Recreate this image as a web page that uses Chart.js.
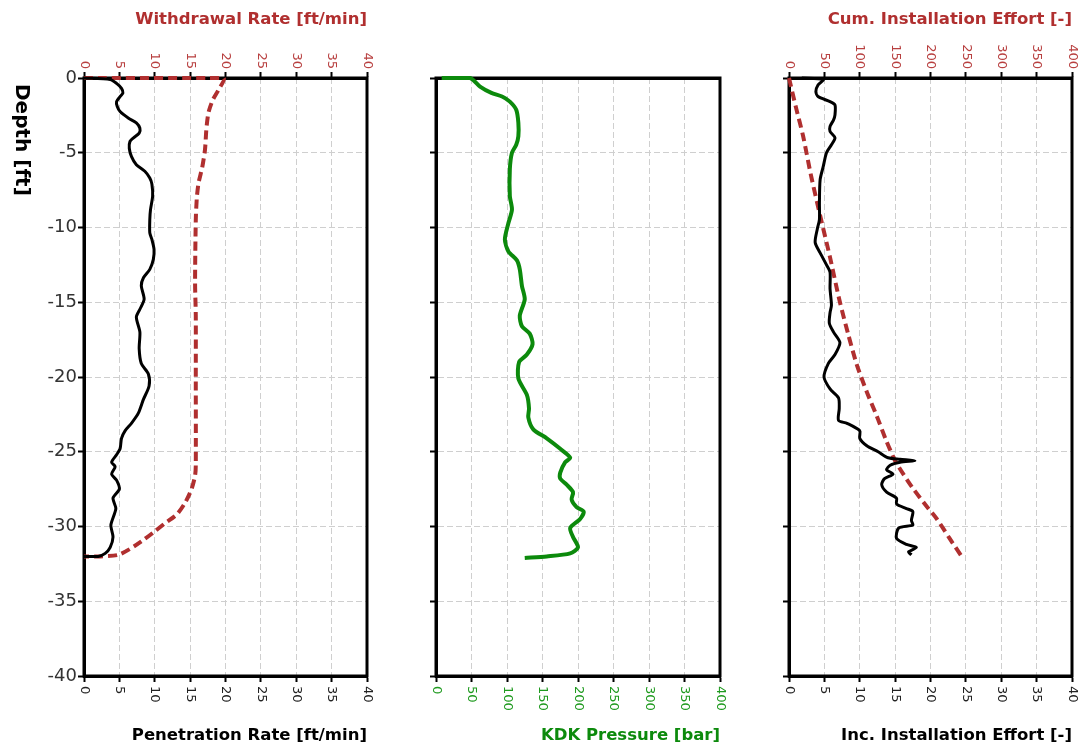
<!DOCTYPE html>
<html><head><meta charset="utf-8">
<script src="https://cdn.jsdelivr.net/npm/chart.js@4.4.1/dist/chart.umd.min.js"></script>
<style>html,body{margin:0;padding:0;background:#fff;overflow:hidden}
canvas{position:absolute;left:0;top:0}</style></head>
<body>
<canvas id="c1" width="1086" height="752"></canvas>
<canvas id="c2" width="1086" height="752"></canvas>
<canvas id="c3" width="1086" height="752"></canvas>
<script>
// ---- Data (depth in ft, negative downward) ----
const penetrationRate  = [0,3.7,4.6,5.3,5.5,5.1,4.6,4.7,5.1,6.3,7.4,7.9,7.8,7.0,6.5,6.4,6.7,7.4,8.6,9.3,9.6,9.7,9.4,9.3,9.3,9.6,9.9,9.8,9.3,8.4,8.1,8.5,7.9,7.4,7.9,7.8,8.1,9.1,9.2,8.4,7.7,6.7,5.8,5.3,5.1,4.6,3.9,4.4,3.9,4.6,5.0,4.1,4.5,3.8,4.1,3.7,3.0,2.0,0];
const penetrationDepth = [0,-0.1,-0.36,-0.69,-1.0,-1.24,-1.58,-1.9,-2.24,-2.69,-3.0,-3.36,-3.69,-4.0,-4.24,-4.7,-5.24,-5.8,-6.24,-6.69,-7.1,-7.9,-8.8,-9.47,-10.36,-10.8,-11.47,-12.13,-12.8,-13.36,-13.9,-14.8,-15.47,-16.0,-17.0,-18.1,-19.1,-19.8,-20.6,-21.5,-22.4,-23.1,-23.6,-24.1,-24.8,-25.2,-25.7,-26.0,-26.5,-26.9,-27.5,-28.1,-28.8,-29.9,-30.7,-31.4,-31.8,-32.0,-32.0];

const withdrawalRate  = [0,19.7,19.0,18.2,17.6,17.3,17.1,16.7,16.2,15.95,15.8,15.7,15.8,15.8,15.8,15.7,15.2,14.3,13.1,11.4,9.8,8.4,6.5,4.8,2.3,0];
const withdrawalDepth = [0,0,-0.8,-1.47,-2.3,-3.4,-4.8,-6.0,-7.0,-8.0,-9.5,-13.7,-15.9,-20.0,-25.9,-26.6,-27.5,-28.4,-29.2,-29.8,-30.4,-30.9,-31.5,-31.9,-32.0,-32.0];

const kdkPressure = [8,48,62,78,93,104,113,116,116,113,107,104,104,107,102,97,102,114,118,121,125,118,121,132,136,128,117,116,128,131,130,137,156,175,189,182,175,175,184,193,191,198,208,203,189,193,200,189,156,125];
const kdkDepth    = [0,0,-0.58,-1.0,-1.24,-1.58,-2.13,-3.0,-3.9,-4.47,-5.0,-6.1,-7.9,-8.8,-9.7,-10.8,-11.6,-12.2,-12.8,-13.9,-14.8,-15.9,-16.6,-17.1,-17.8,-18.5,-19.0,-20.1,-21.2,-22.1,-22.7,-23.5,-24.1,-24.8,-25.4,-25.7,-26.4,-26.8,-27.2,-27.7,-28.2,-28.7,-29.0,-29.5,-30.1,-30.7,-31.4,-31.8,-32.0,-32.1];

const incEffort = [1.8,4.85,4.1,3.8,4.1,5.8,6.5,6.5,6.3,5.8,5.8,6.5,6.0,5.3,4.85,4.4,4.3,4.3,4.0,3.7,4.4,5.3,5.8,5.8,6.0,5.8,5.7,6.3,7.2,6.5,5.55,4.95,5.8,7.0,7.1,7.0,8.2,10.0,10.0,11.0,12.6,14.0,15.7,17.8,15.7,14.3,13.8,14.7,13.5,13.1,13.8,15.2,15.2,16.6,17.5,17.3,17.5,15.5,15.2,16.6,18.0,16.9,17.3];
const incDepth  = [0,-0.1,-0.47,-0.9,-1.24,-1.58,-1.8,-2.47,-2.8,-3.24,-3.58,-4.0,-4.47,-5.0,-5.9,-6.8,-8.36,-9.47,-10.1,-11.0,-11.7,-12.5,-13.0,-14.1,-15.2,-15.7,-16.4,-17.0,-17.7,-18.5,-19.1,-20.0,-20.8,-21.4,-22.1,-22.9,-23.1,-23.6,-24.1,-24.6,-25.0,-25.4,-25.5,-25.6,-25.7,-25.9,-26.2,-26.5,-26.8,-27.2,-27.7,-28.1,-28.5,-28.8,-29.0,-29.6,-29.9,-30.1,-30.8,-31.2,-31.4,-31.7,-31.9];

const cumEffort = [0,10,20,31,44,58,71,84,96,110,124,137,150,163,176,192,209,227,244];
const cumDepth  = [0,-2.0,-3.9,-6.5,-9.2,-12.0,-14.8,-17.2,-19.2,-21.0,-22.6,-24.2,-25.6,-26.6,-27.5,-28.5,-29.5,-30.8,-32.0];

// ---- Axis ranges / titles ----
const depthRange = [-40, 0];
const rateRange = [0, 40];
const pressureRange = [0, 400];
const effortCumRange = [0, 400];
const titles = {
  depth: 'Depth [ft]',
  withdrawal: 'Withdrawal Rate [ft/min]',
  penetration: 'Penetration Rate [ft/min]',
  kdk: 'KDK Pressure [bar]',
  cum: 'Cum. Installation Effort [-]',
  inc: 'Inc. Installation Effort [-]'
};

const RED = '#b02f2f', GREEN = '#0c8a0c', TRED = '#b84040', TGREEN = '#1f9a1f', TBLACK = '#222';
const FONT = 'DejaVu Sans';
function pts(xs, ds) { return xs.map((v, i) => ({x: v, y: ds[i]})); }

const panelDeco = {
  id: 'panelDeco',
  beforeDatasetsDraw(chart) {
    const {ctx, chartArea: a} = chart;
    ctx.save(); ctx.strokeStyle = '#000'; ctx.lineWidth = 3;
    ctx.strokeRect(a.left, a.top, a.right - a.left, a.bottom - a.top);
    ctx.restore();
  },
  afterDraw(chart, args, opts) {
    const {ctx, chartArea: a} = chart;
    (opts.labels || []).forEach(L => {
      const s = chart.scales[L.id];
      ctx.save();
      ctx.font = '13px "' + FONT + '"';
      ctx.fillStyle = L.color;
      ctx.textBaseline = 'middle';
      s.ticks.forEach(t => {
        const x = s.getPixelForValue(t.value);
        ctx.save();
        ctx.translate(x, L.top ? a.top - 9 : a.bottom + 10);
        ctx.rotate(Math.PI / 2);
        ctx.textAlign = L.top ? 'right' : 'left';
        ctx.fillText(String(t.label), 0, 0);
        ctx.restore();
      });
      ctx.restore();
    });
    if (opts.depthTitle) {
      ctx.save();
      ctx.font = 'bold 20px "' + FONT + '"';
      ctx.fillStyle = '#000';
      ctx.translate(21.5, 84);
      ctx.rotate(Math.PI / 2);
      ctx.textAlign = 'left';
      ctx.textBaseline = 'middle';
      ctx.fillText(opts.depthTitle, 0, 0);
      ctx.restore();
    }
  }
};

function lineDs(xs, ds, axis, color, width, dash) {
  return {data: pts(xs, ds), xAxisID: axis, yAxisID: 'y', showLine: true, borderColor: color,
    borderWidth: width, borderDash: dash || [], pointRadius: 0, tension: 0.25, clip: false, fill: false,
    borderCapStyle: 'butt', borderJoinStyle: 'round'};
}

function makePanel(id, cfg) {
  const gridBase = {color: '#cfcfcf', lineWidth: 1, tickColor: '#000', tickWidth: 2, tickLength: 6};
  const borderBase = {color: '#000', width: 3, dash: [6, 3]};
  const titleFont = {family: FONT, size: 16.5, weight: 'bold'};
  return new Chart(document.getElementById(id), {
    type: 'scatter',
    data: {datasets: cfg.datasets},
    options: {
      responsive: false, animation: false, events: [],
      layout: {padding: {left: cfg.left - 84, right: 1086 - cfg.right, top: 0, bottom: 0}},
      plugins: {legend: {display: false}, tooltip: {enabled: false}, panelDeco: cfg.deco},
      scales: {
        y: {type: 'linear', position: 'left', min: depthRange[0], max: depthRange[1],
          ticks: {stepSize: 5, color: cfg.yLabels ? '#333' : 'rgba(0,0,0,0)', font: {family: FONT, size: 18}, padding: 1},
          grid: gridBase, border: borderBase,
          afterFit: s => { s.width = 84; }},
        x: {type: 'linear', position: 'bottom', min: cfg.xRange[0], max: cfg.xRange[1],
          ticks: {stepSize: (cfg.xRange[1] - cfg.xRange[0]) / 8, color: 'rgba(0,0,0,0)', autoSkip: false, maxRotation: 0},
          grid: gridBase, border: borderBase,
          title: {display: true, text: cfg.xTitle, align: 'end', color: cfg.xTitleColor, font: titleFont, padding: {top: 0, bottom: 6}},
          afterFit: s => { s.height = 76; }},
        x2: {type: 'linear', axis: 'x', position: 'top', min: cfg.x2Range[0], max: cfg.x2Range[1],
          ticks: {stepSize: (cfg.x2Range[1] - cfg.x2Range[0]) / 8, color: 'rgba(0,0,0,0)', autoSkip: false, maxRotation: 0},
          grid: {drawOnChartArea: false, drawTicks: cfg.x2Ticks, tickColor: '#000', tickWidth: 2, tickLength: 6, color: '#cfcfcf'},
          border: {color: '#000', width: 3},
          title: {display: !!cfg.x2Title, text: cfg.x2Title || '', align: 'end', color: RED, font: titleFont, padding: {top: 10, bottom: 0}},
          afterFit: s => { s.height = 78; }}
      }
    },
    plugins: [panelDeco]
  });
}

makePanel('c1', {
  left: 84, right: 367, xRange: rateRange, x2Range: rateRange, x2Ticks: true, yLabels: true,
  xTitle: titles.penetration, xTitleColor: '#000', x2Title: titles.withdrawal,
  datasets: [
    lineDs(penetrationRate, penetrationDepth, 'x', '#000', 3),
    lineDs(withdrawalRate, withdrawalDepth, 'x2', RED, 4, [9, 5])
  ],
  deco: {labels: [{id: 'x', color: TBLACK, top: false}, {id: 'x2', color: TRED, top: true}], depthTitle: titles.depth}
});

makePanel('c2', {
  left: 436, right: 720, xRange: pressureRange, x2Range: pressureRange, x2Ticks: false, yLabels: false,
  xTitle: titles.kdk, xTitleColor: GREEN, x2Title: '',
  datasets: [lineDs(kdkPressure, kdkDepth, 'x', GREEN, 4)],
  deco: {labels: [{id: 'x', color: TGREEN, top: false}]}
});

makePanel('c3', {
  left: 789, right: 1072, xRange: rateRange, x2Range: effortCumRange, x2Ticks: true, yLabels: false,
  xTitle: titles.inc, xTitleColor: '#000', x2Title: titles.cum,
  datasets: [
    lineDs(incEffort, incDepth, 'x', '#000', 3),
    lineDs(cumEffort, cumDepth, 'x2', RED, 4, [9, 5])
  ],
  deco: {labels: [{id: 'x', color: TBLACK, top: false}, {id: 'x2', color: TRED, top: true}]}
});
</script>
</body></html>
